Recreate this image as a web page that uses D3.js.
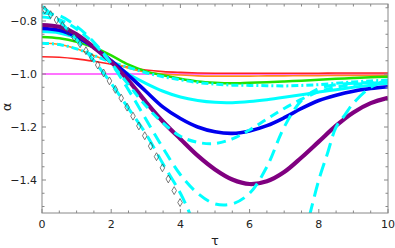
<!DOCTYPE html>
<html><head><meta charset="utf-8">
<script src="https://cdn.jsdelivr.net/npm/d3@7"></script>
<style>body{margin:0;background:#fff}svg{display:block}</style>
</head><body>
<script>
const tau = [0,0.5,1,1.5,2,2.5,3,3.5,4,4.5,5,5.5,6,6.5,7,7.5,8,8.5,9,9.5,10];
const magenta = [-1,-1,-1,-1,-1,-1,-1,-1,-1,-1,-1,-1,-1,-1,-1,-1,-1,-1,-1,-1,-1];
const red     = [-0.935,-0.937,-0.943,-0.952,-0.963,-0.975,-0.985,-0.991,-0.994,-0.996,-0.997,-0.997,-0.997,-0.997,-0.997,-0.997,-0.997,-0.996,-0.996,-0.996,-0.996];
const orange  = [-0.884,-0.888,-0.905,-0.93,-0.955,-0.978,-0.993,-1.0,-1.004,-1.007,-1.008,-1.008,-1.008,-1.007,-1.007,-1.006,-1.006,-1.005,-1.005,-1.005,-1.005];
const green   = [-0.86,-0.865,-0.878,-0.9,-0.93,-0.965,-0.99,-1.005,-1.018,-1.028,-1.033,-1.035,-1.033,-1.031,-1.028,-1.025,-1.022,-1.018,-1.015,-1.012,-1.01];
const cyanDashDot = [-0.884,-0.889,-0.905,-0.93,-0.955,-0.975,-0.995,-1.01,-1.022,-1.032,-1.038,-1.042,-1.043,-1.044,-1.045,-1.043,-1.04,-1.035,-1.03,-1.026,-1.023];
const cyanSolid = [-0.84,-0.845,-0.865,-0.9,-0.955,-1.0,-1.035,-1.065,-1.087,-1.1,-1.107,-1.108,-1.104,-1.097,-1.088,-1.078,-1.068,-1.059,-1.05,-1.042,-1.035];
const blue    = [-0.828,-0.835,-0.86,-0.9,-0.95,-1.005,-1.065,-1.125,-1.168,-1.2,-1.218,-1.224,-1.215,-1.195,-1.165,-1.13,-1.1,-1.08,-1.065,-1.055,-1.048];
const purple  = [-0.815,-0.822,-0.85,-0.9,-0.955,-1.025,-1.105,-1.18,-1.245,-1.308,-1.36,-1.398,-1.415,-1.405,-1.37,-1.315,-1.255,-1.195,-1.145,-1.11,-1.09];
const cyanDashA = [-0.785,-0.795,-0.83,-0.885,-0.96,-1.04,-1.12,-1.185,-1.235,-1.258,-1.262,-1.245,-1.211,-1.17,-1.13,-1.095,-1.067,-1.05,-1.04,-1.035,-1.03];
const cyanDashB = [-0.77,-0.78,-0.82,-0.88,-0.96,-1.06,-1.17,-1.28,-1.38,-1.45,-1.49,-1.49,-1.45,-1.35,-1.2,-1.1,-1.055,-1.04,-1.035,-1.032,-1.03];
const tauC = [0,0.5,1,1.5,2,2.5,3,3.5,4,4.25,4.5,4.75,5,7.25,7.5,7.75,8,8.25,8.5,8.75,9,9.5,10];
const cyanDashC = [-0.745,-0.8,-0.87,-0.95,-1.035,-1.13,-1.225,-1.34,-1.45,-1.52,-1.6,-1.72,-1.85,-1.85,-1.65,-1.525,-1.4,-1.3,-1.2,-1.155,-1.11,-1.05,-1.02];
const tauDiamond = [0.08,0.25,0.42,0.59,0.76,0.93,1.1,1.27,1.44,1.61,1.78,1.95,2.12,2.29,2.46,2.63,2.8,2.97,3.14,3.31,3.48,3.65,3.82,3.99];
const diamond = [-0.758,-0.776,-0.796,-0.817,-0.839,-0.862,-0.886,-0.912,-0.938,-0.966,-0.996,-1.026,-1.058,-1.091,-1.125,-1.159,-1.196,-1.233,-1.272,-1.312,-1.354,-1.396,-1.44,-1.485];
const xTicks = [0,2,4,6,8,10];
const yTicks = [-1.4,-1.2,-1.0,-0.8];

const W=395,H=248, L=42,R=388,T=4,B=213;
const svg=d3.select("body").append("svg").attr("width",W).attr("height",H);
const x=d3.scaleLinear().domain([0,10]).range([L,R]);
const y=d3.scaleLinear().domain([-1.5245,-0.7358]).range([B,T]);

svg.append("clipPath").attr("id","c").append("rect").attr("x",L).attr("y",T).attr("width",R-L).attr("height",B-T);
const g=svg.append("g").attr("clip-path","url(#c)");

function draw(xs, ys, color, w, dash){
  const pts = xs.map((t,i)=>[t,ys[i]]);
  const line=d3.line().x(d=>x(d[0])).y(d=>y(d[1])).curve(d3.curveCatmullRom.alpha(0.5));
  g.append("path").attr("d",line(pts)).attr("fill","none").attr("stroke",color)
   .attr("stroke-width",w).attr("stroke-dasharray",dash||null).attr("stroke-linecap","butt");
}
draw(tau,magenta,"#ff44ff",1.5);
draw(tau,red,"#ff2222",1.6);
draw(tau,orange,"#ff8c1a",1.6);
draw(tau,green,"#22e000",2.5);
draw(tau,cyanDashDot,"#00ffff",3,"7,3,2,3");
draw(tau,cyanSolid,"#00ffff",3);
draw(tau,blue,"#0000ee",3.6);
draw(tau,purple,"#800080",4.2);
draw(tau,cyanDashA,"#00ffff",3,"9,6");
draw(tau,cyanDashB,"#00ffff",3,"12,7");
draw(tauC.slice(0,13),cyanDashC.slice(0,13),"#00ffff",3,"14,7");
draw(tauC.slice(13),cyanDashC.slice(13),"#00ffff",3,"14,7");

g.selectAll("path.dm").data(tauDiamond).enter().append("path").attr("class","dm")
 .attr("d",d3.symbol(d3.symbolDiamond,18)())
 .attr("transform",(d,i)=>`translate(${x(d)},${y(diamond[i])})`)
 .attr("fill","none").attr("stroke","#444").attr("stroke-width",0.7);

// frame & ticks
const ax="#888";
svg.append("rect").attr("x",L).attr("y",T).attr("width",R-L).attr("height",B-T).attr("fill","none").attr("stroke",ax).attr("stroke-width",1);
const xMinor=d3.range(0,10.001,0.5), yMinor=d3.range(-1.5,-0.74,0.05);
xMinor.forEach(t=>{
  const major = Math.abs(t/2-Math.round(t/2))<1e-6;
  const len = major?4:2.5;
  svg.append("line").attr("x1",x(t)).attr("x2",x(t)).attr("y1",B).attr("y2",B-len).attr("stroke",ax);
  svg.append("line").attr("x1",x(t)).attr("x2",x(t)).attr("y1",T).attr("y2",T+len).attr("stroke",ax);
});
yMinor.forEach(v=>{
  const major = Math.abs(v/0.2-Math.round(v/0.2))<1e-6;
  const len = major?4:2.5;
  svg.append("line").attr("x1",L).attr("x2",L+len).attr("y1",y(v)).attr("y2",y(v)).attr("stroke",ax);
  svg.append("line").attr("x1",R).attr("x2",R-len).attr("y1",y(v)).attr("y2",y(v)).attr("stroke",ax);
});
const font="DejaVu Sans";
svg.selectAll("text.xt").data(xTicks).enter().append("text").attr("class","xt")
 .attr("x",d=>x(d)).attr("y",228).attr("text-anchor","middle").attr("font-family",font).attr("font-size",11).attr("fill","#222")
 .text(d=>d);
svg.selectAll("text.yt").data(yTicks).enter().append("text").attr("class","yt")
 .attr("x",37).attr("y",d=>y(d)+4).attr("text-anchor","end").attr("font-family",font).attr("font-size",11).attr("fill","#222")
 .text(d=>d3.format(".1f")(d).replace("-","\u2212"));
svg.append("text").attr("x",215).attr("y",245).attr("text-anchor","middle").attr("font-family",font).attr("font-size",13).attr("fill","#222").text("τ");
svg.append("text").attr("transform","translate(11,107) rotate(-90)").attr("text-anchor","middle").attr("font-family",font).attr("font-size",13).attr("fill","#222").text("α");
</script>
</body></html>
